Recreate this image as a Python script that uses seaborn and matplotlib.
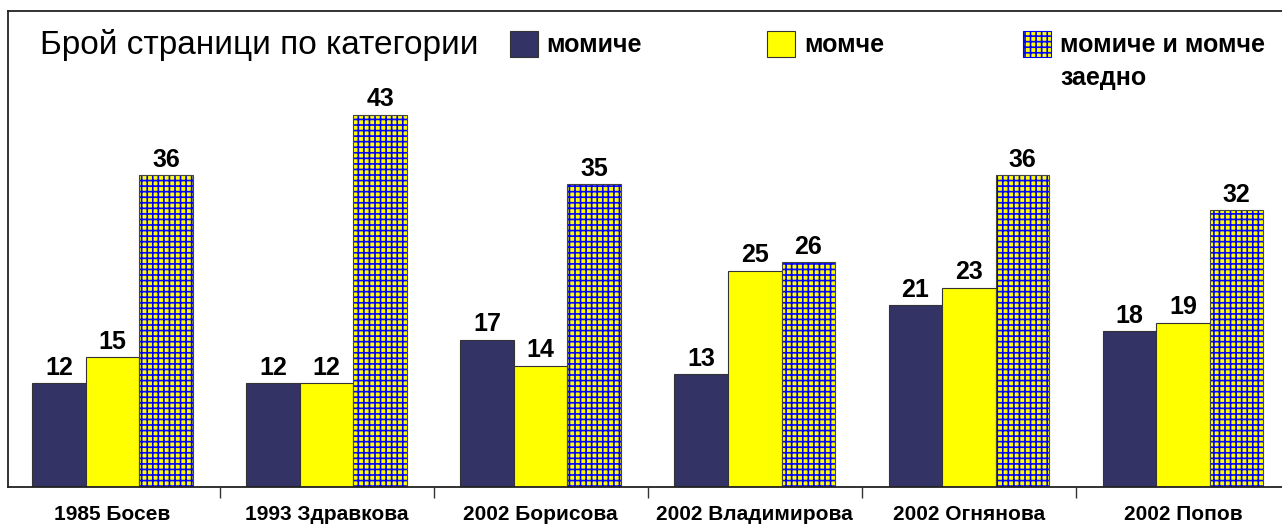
import matplotlib
matplotlib.use("Agg")
import matplotlib.pyplot as plt
import seaborn as sns
import pandas as pd
from matplotlib.patches import Rectangle

categories = ["1985 Босев", "1993 Здравкова", "2002 Борисова",
              "2002 Владимирова", "2002 Огнянова", "2002 Попов"]
series_names = ["момиче", "момче", "момиче и момче"]
girls = [12, 12, 17, 13, 21, 18]
boys = [15, 12, 14, 25, 23, 19]
together = [36, 43, 35, 26, 36, 32]
title_text = "Брой страници по категории"
legend_extra = "заедно"

sns.set_theme(style="white")
plt.rcParams["font.family"] = ["Liberation Sans", "DejaVu Sans"]
plt.rcParams["hatch.linewidth"] = 1.2
plt.rcParams["text.color"] = "black"

W, H = 1282, 524
fig = plt.figure(figsize=(W / 100, H / 100), dpi=100)
fig.patch.set_facecolor("white")
ax = fig.add_axes([8 / W, 37 / H, (1290 - 8) / W, (487 - 11) / H])

df = pd.DataFrame({
    "cat": categories * 3,
    "series": sum([[s] * len(categories) for s in series_names], []),
    "value": girls + boys + together,
})
colors = {"момиче": "#333366", "момче": "#FFFF00", "момиче и момче": "#FFFF00"}
sns.barplot(data=df, x="cat", y="value", hue="series", hue_order=series_names,
            order=categories, palette=colors, saturation=1, width=0.75,
            edgecolor="#333333", linewidth=0.8, ax=ax)

handles, labels = ax.get_legend_handles_labels()
if ax.get_legend() is not None:
    ax.get_legend().remove()

# hatched third series
for bar in ax.containers[2]:
    bar.set_edgecolor("#0000FF")
    bar.set_hatch("+++")
    bar.set_linewidth(0)
    ax.add_patch(Rectangle(bar.get_xy(), bar.get_width(), bar.get_height(),
                           fill=False, edgecolor="#444444", linewidth=0.8,
                           zorder=bar.get_zorder() + 0.1))
hh = handles[2]
hh.set_edgecolor("#0000FF")
hh.set_hatch("+++")
for h in handles:
    h.set_linewidth(0.8)

for cont in ax.containers:
    ax.bar_label(cont, padding=2.5, fontsize=18, fontweight="bold", color="black")

ax.set_ylim(0, 55)
ax.set_xlim(-0.488, 5.5)
ax.set_xlabel("")
ax.set_ylabel("")
ax.set_yticks([])
ax.set_xticks(range(len(categories)))
ax.set_xticklabels(categories, fontsize=15, fontweight="bold")
ax.set_xticks([i + 0.5 for i in range(len(categories))], minor=True)
ax.tick_params(axis="x", which="major", length=0, pad=13, colors="black")
ax.tick_params(axis="x", which="minor", length=8, width=1, color="#333333",
               direction="out", bottom=True)
for s in ["left", "top", "bottom"]:
    ax.spines[s].set_visible(True)
    ax.spines[s].set_color("#222222")
    ax.spines[s].set_linewidth(1.3)
ax.spines["right"].set_visible(False)

fig.text(40 / W, 1 - 45 / H, title_text, fontsize=24, va="center", ha="left", color="black")

xs = [510, 767, 1023]
for h, lab, x in zip(handles, series_names, xs):
    fig.legend([h], [lab], loc="upper left", bbox_to_anchor=(x / W, 1 - 31 / H),
               frameon=False, prop={"weight": "bold", "size": 18}, labelcolor="black",
               handlelength=1.12, handleheight=1.2, handletextpad=0.35,
               borderpad=0, borderaxespad=0)
fig.text(1060 / W, 1 - 78 / H, legend_extra, fontsize=18, fontweight="bold",
         va="center", ha="left", color="black")

fig.savefig("out.png", dpi=100, facecolor="white")
